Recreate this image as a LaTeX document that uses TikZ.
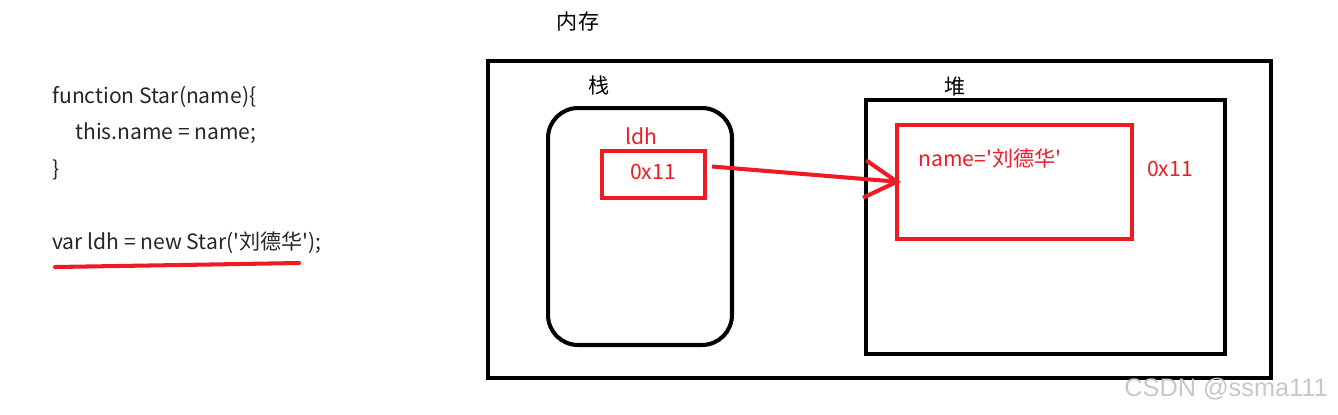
\documentclass[tikz,border=0pt]{standalone}
\usepackage{fontspec}
\setmainfont{Noto Sans CJK SC}[Ligatures=TeXOff]
\newfontfamily\markfont{Liberation Sans}
\usetikzlibrary{arrows.meta,positioning,calc}
\definecolor{paintred}{RGB}{237,28,36}

\begin{document}
\begin{tikzpicture}[
    x=0.02cm, y=-0.02cm,
    frame/.style={draw, line width=2.3pt, inner sep=0pt},
    redbox/.style={draw=paintred, line width=2.3pt, inner sep=0pt},
    lbl/.style={font=\fontsize{12}{14}\selectfont, inner sep=0pt},
    code/.style={lbl, anchor=west, text=black!85},
    redlbl/.style={lbl, text=paintred},
    ptr/.style={-{Straight Barb[length=0.65cm, width=0.75cm]}, line width=2.3pt, paintred}
]
\useasboundingbox (0,0) rectangle (1338,414);

% code on the left
\node[code] (code1) at (52,97) {function Star(name)\{};
\node[code] (code2) at (75,133) {this.name = name;};
\node[code] (code3) at (52,170) {\}};
\node[code] (code4) at (52,243) {var ldh = new Star('刘德华');};
\draw[paintred, line width=2.3pt, line cap=round] (55,267) -- (180,265) -- (299,263);

% memory
\node[lbl] (memlbl) at (578,22) {内存};
\node[frame, minimum width=15.66cm, minimum height=6.34cm] (mem) at (879.5,219.5) {};

% stack
\node[lbl] (stacklbl) at (599,85) {栈};
\node[frame, rounded corners=0.6cm, minimum width=3.68cm, minimum height=4.74cm] (stack) at (640,226.5) {};
\node[redlbl] (ldhlbl) at (641,136) {ldh};
\node[redbox, minimum width=2.06cm, minimum height=0.94cm] (ldh) at (653.5,174.5) {};
\node[redlbl] (addr) at (653,172) {0x11};

% heap
\node[lbl] (heaplbl) at (955,87) {堆};
\node[frame, minimum width=7.18cm, minimum height=5.08cm] (heap) at (1045.5,227) {};
\node[redbox, minimum width=4.7cm, minimum height=2.28cm] (obj) at (1014.5,182) {};
\node[redlbl] (objlbl) at (990,158) {name='刘德华'};
\node[redlbl] (objaddr) at (1170,169) {0x11};

\draw[ptr] ([xshift=0.1cm, yshift=0.16cm]ldh.east) -- ([xshift=0.12cm]obj.west);

\node[lbl, text=black!22, font=\fontsize{14.4}{16}\selectfont\markfont] (mark) at (1226,389) {CSDN @ssma111};
\end{tikzpicture}
\end{document}
